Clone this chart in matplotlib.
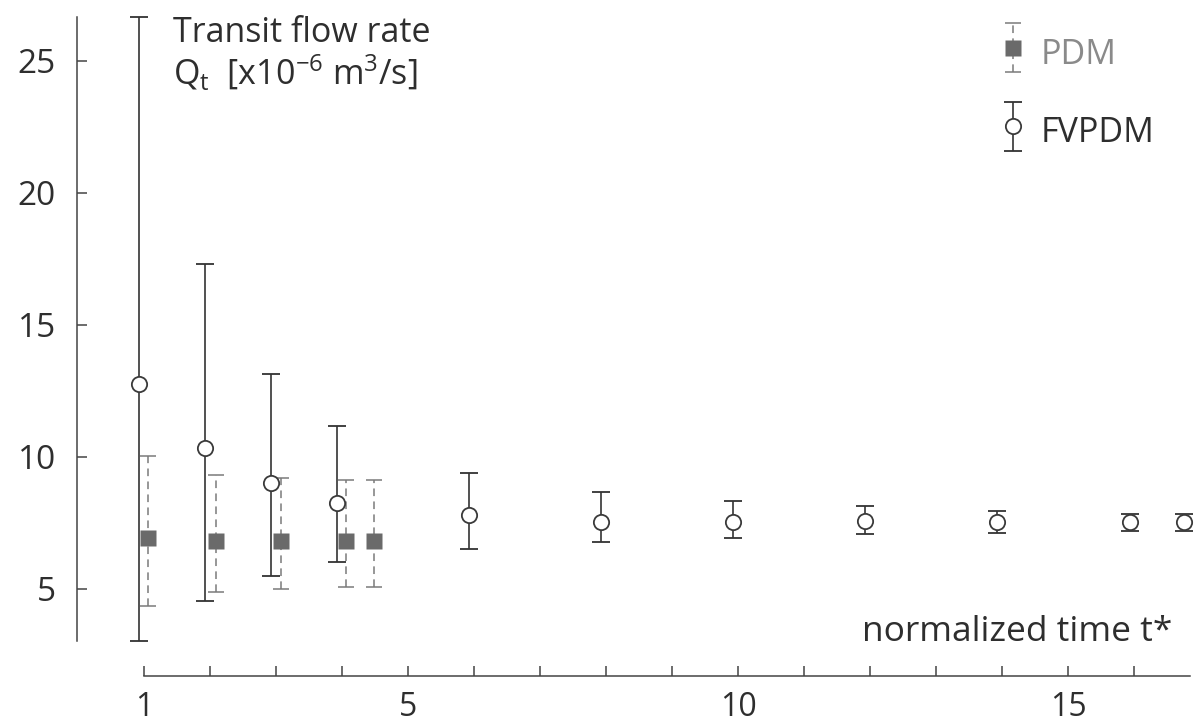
import numpy as np
import matplotlib
matplotlib.use("Agg")
import matplotlib.pyplot as plt
from matplotlib.container import ErrorbarContainer
from matplotlib.legend_handler import HandlerErrorbar

plt.rcParams['font.family'] = ['Open Sans', 'DejaVu Sans']
plt.rcParams['mathtext.fontset'] = 'custom'
plt.rcParams['mathtext.rm'] = 'Open Sans'

# FVPDM: transit flow rate with min / max range
fv_t = [0.92, 1.92, 2.92, 3.92, 5.92, 7.92, 9.93, 11.92, 13.93, 15.94, 16.76]
fv_q = [12.75, 10.32, 8.99, 8.26, 7.77, 7.54, 7.54, 7.56, 7.54, 7.54, 7.54]
fv_lo = [3.00, 4.52, 5.49, 6.01, 6.50, 6.77, 6.92, 7.06, 7.12, 7.20, 7.20]
fv_hi = [26.67, 17.30, 13.13, 11.15, 9.39, 8.67, 8.32, 8.13, 7.95, 7.84, 7.84]

# PDM
pdm_t = [1.06, 2.09, 3.07, 4.06, 4.49]
pdm_q = [6.91, 6.81, 6.81, 6.81, 6.81]
pdm_lo = [4.36, 4.86, 5.00, 5.06, 5.06]
pdm_hi = [10.02, 9.32, 9.18, 9.10, 9.10]

x_ticks = list(range(1, 17))
x_labels = ['1', '5', '10', '15']
y_ticks = [5, 10, 15, 20, 25]

dark = '#2e2e2e'
grey = '#6a6a6a'

fig = plt.figure(figsize=(11.95, 7.24), dpi=100)
ax = fig.add_axes([0.0642, 0.0663, 0.9345, 0.912])

fv_q = np.array(fv_q)
pdm_q = np.array(pdm_q)
fv_err = [fv_q - np.array(fv_lo), np.array(fv_hi) - fv_q]
pdm_err = [pdm_q - np.array(pdm_lo), np.array(pdm_hi) - pdm_q]

pdm = ax.errorbar(pdm_t, pdm_q, yerr=pdm_err, fmt='s', ms=11.5, color=grey,
                  mec='none', ecolor='#7a7a7a', elinewidth=1.1, capsize=5.8,
                  capthick=1.1, zorder=2, label='PDM')
pdm[2][0].set_linestyle((0, (5, 3.5)))

fv = ax.errorbar(fv_t, fv_q, yerr=fv_err, fmt='o', ms=11, mfc='white',
                 mec='#3a3a3a', mew=1.3, ecolor='#333333', elinewidth=1.2,
                 capsize=6.2, capthick=1.3, zorder=3, label='FVPDM')

ax.set_xlim(-0.02, 16.9)
ax.set_ylim(1.69, 26.7)

for s in ['top', 'right']:
    ax.spines[s].set_visible(False)
for s in ['left', 'bottom']:
    ax.spines[s].set_color('#444444')
    ax.spines[s].set_linewidth(1.1)
ax.spines['left'].set_bounds(min(fv_lo), max(fv_hi))
ax.spines['bottom'].set_bounds(1, 16.85)

ax.set_xticks(x_ticks)
ax.set_xticklabels([str(t) if str(t) in x_labels else '' for t in x_ticks])
ax.set_yticks(y_ticks)
ax.tick_params(axis='both', direction='in', length=7, width=1.1,
               color='#444444', labelsize=24, labelcolor=dark)
ax.tick_params(axis='y', pad=15)
ax.tick_params(axis='x', pad=11, labelsize=23)

ax.text(0.0862, 1.0, 'Transit flow rate', transform=ax.transAxes,
        fontsize=24.5, color=dark, va='top', ha='left')
ax.text(0.0862, 0.943, r'Q$_{\mathrm{t}}$  [x10$^{\mathrm{-6}}$ m$^{\mathrm{3}}$/s]',
        transform=ax.transAxes, fontsize=24.5, color=dark, va='top', ha='left')
ax.text(0.981, 0.0667, 'normalized time t*', transform=ax.transAxes,
        fontsize=25.5, color=dark, va='center', ha='right')

leg = ax.legend(handles=[pdm, fv], loc='upper left', bbox_to_anchor=(0.823, 0.976),
                frameon=False, fontsize=24.5, borderpad=0, borderaxespad=0,
                handlelength=1.0, handletextpad=0.33, handleheight=1.5,
                labelspacing=1.1, numpoints=1,
                handler_map={ErrorbarContainer: HandlerErrorbar(xerr_size=0.3, yerr_size=0.72)})
leg.get_texts()[0].set_color('#8a8a8a')
leg.get_texts()[1].set_color(dark)

fig.savefig('out.png', dpi=100)
